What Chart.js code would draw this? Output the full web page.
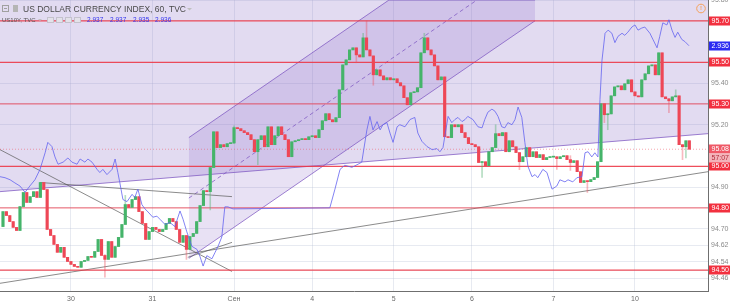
<!DOCTYPE html>
<html>
<head>
<meta charset="utf-8">
<script src="https://cdn.jsdelivr.net/npm/chart.js@4.4.1/dist/chart.umd.min.js"></script>
<style>
  html, body { margin: 0; padding: 0; background: #fff; }
</style>
</head>
<body>
<canvas id="chart" width="730" height="307"></canvas>
<script>
// hourly DXY candles, x = candle index
const firstOpen = 94.710;
const closes = [
  94.782,94.763,94.734,94.706,94.691,94.806,94.874,94.826,94.854,94.878,
  94.850,94.922,94.888,94.696,94.667,94.624,94.586,94.610,94.562,94.542,
  94.528,94.518,94.514,94.542,94.547,94.566,94.562,94.590,94.648,94.571,
  94.552,94.638,94.562,94.614,94.658,94.720,94.816,94.802,94.840,94.854,
  94.782,94.725,94.648,94.686,94.706,94.696,94.686,94.696,94.725,94.749,
  94.734,94.696,94.634,94.667,94.600,94.662,94.677,94.734,94.811,94.883,
  94.878,94.994,95.166,95.090,95.104,95.094,95.109,95.112,95.186,95.181,
  95.171,95.162,95.152,95.128,95.070,95.128,95.147,95.094,95.190,95.104,
  95.147,95.190,95.152,95.128,95.046,95.118,95.123,95.128,95.133,95.128,
  95.142,95.147,95.138,95.176,95.219,95.253,95.224,95.214,95.234,95.368,
  95.488,95.512,95.560,95.570,95.536,95.526,95.618,95.560,95.531,95.440,
  95.464,95.435,95.416,95.426,95.416,95.421,95.402,95.387,95.330,95.296,
  95.354,95.358,95.378,95.546,95.618,95.560,95.536,95.483,95.416,95.430,
  95.142,95.138,95.200,95.190,95.200,95.162,95.138,95.109,95.104,95.094,
  95.018,95.022,95.003,95.070,95.090,95.157,95.147,95.162,95.070,95.123,
  95.094,95.066,95.022,95.046,95.090,95.046,95.070,95.042,95.056,95.032,
  95.042,95.044,95.046,95.037,95.046,95.051,95.032,95.018,95.027,94.974,
  94.922,94.931,94.926,94.936,94.946,95.022,95.301,95.248,95.252,95.339,
  95.382,95.387,95.368,95.397,95.416,95.358,95.339,95.334,95.416,95.445,
  95.483,95.488,95.440,95.546,95.334,95.325,95.315,95.334,95.339,95.104,
  95.094,95.123,95.082
];
// [index, high, low] for candles with visible wicks
const wicks = [
  [30,94.575,94.466],[36,94.860,94.720],[54,94.667,94.552],[61,94.994,94.790],
  [68,95.195,95.109],[75,95.128,95.008],[104,95.570,95.498],[106,95.640,95.526],
  [107,95.700,95.560],[109,95.531,95.390],[124,95.640,95.546],[141,95.022,94.946],
  [145,95.200,95.090],[152,95.066,94.984],[163,95.046,94.985],[167,95.051,94.980],
  [172,94.931,94.874],[177,95.301,95.210],[178,95.252,95.176],[196,95.325,95.258],
  [198,95.368,95.334],[200,95.104,95.032],[201,95.123,95.040]
];

const dayTicks = [20, 44, 68, 91, 115, 138, 162, 186];
const dayLabels = ['30', '31', 'Сен', '4', '5', '6', '7', '10'];
const priceTicks = [95.80, 95.70, 95.50, 95.40, 95.30, 95.20, 95.00, 94.90, 94.80, 94.70, 94.62, 94.54, 94.50, 94.46];

// US10Y overlay
const usTimes = [
  -0.88,0.6,2.1,3.5,5.0,6.5,7.9,9.4,10.9,12.4,13.2,14.4,15.3,16.2,17.7,19.1,20.3,21.8,22.7,24.1,
  25.0,26.2,27.7,28.5,29.4,30.6,32.1,33.0,33.8,34.4,35.3,36.5,38.0,38.8,39.7,40.9,41.8,42.7,44.1,45.3,
  46.2,47.7,49.1,50.6,52.1,53.0,54.1,55.6,57.1,58.0,58.9,60.0,61.5,62.4,63.3,64.4,65.3,66.2,67.7,96.2,
  97.7,99.2,100.6,102.7,104.5,105.6,107.1,108.0,108.9,110.1,111.0,111.8,113.0,113.9,114.8,116.0,116.8,118.3,119.8,121.2,
  122.1,123.3,124.8,126.3,127.7,128.6,129.5,131.0,132.1,133.0,133.9,135.1,136.0,136.8,138.3,139.8,141.0,141.8,142.7,143.9,
  144.8,145.7,146.8,147.7,148.6,149.8,150.7,151.6,152.7,153.6,154.5,155.7,156.6,157.4,158.9,160.1,161.6,163.0,163.9,165.4,
  166.3,167.7,168.9,170.4,171.3,172.2,173.3,174.2,175.1,175.7,176.3,177.2,178.1,179.2,180.1,181.0,182.2,183.0,183.9,185.1,
  186.0,186.9,188.0,188.9,190.4,191.3,192.5,193.3,194.2,195.4,196.0,196.9,197.8,198.6,199.8,200.7,201.9
];
const usYields = [
  2.810,2.809,2.807,2.804,2.801,2.795,2.801,2.807,2.817,2.833,2.843,2.839,2.829,2.822,2.824,2.828,2.824,2.822,2.827,2.824,
  2.827,2.824,2.817,2.814,2.817,2.812,2.817,2.827,2.814,2.804,2.788,2.786,2.793,2.790,2.798,2.783,2.779,2.776,2.771,2.772,
  2.769,2.764,2.766,2.762,2.777,2.769,2.757,2.743,2.740,2.733,2.724,2.734,2.731,2.737,2.743,2.752,2.781,2.781,2.779,2.780,
  2.798,2.817,2.821,2.819,2.822,2.824,2.855,2.868,2.855,2.863,2.855,2.860,2.862,2.852,2.843,2.858,2.860,2.858,2.865,2.867,
  2.852,2.844,2.839,2.836,2.837,2.834,2.838,2.868,2.862,2.865,2.867,2.863,2.865,2.868,2.865,2.858,2.857,2.865,2.872,2.875,
  2.873,2.868,2.858,2.857,2.862,2.860,2.865,2.877,2.867,2.843,2.820,2.810,2.812,2.809,2.817,2.814,2.798,2.801,2.807,2.805,
  2.807,2.805,2.809,2.810,2.833,2.834,2.829,2.833,2.829,2.884,2.922,2.948,2.951,2.948,2.939,2.945,2.948,2.946,2.949,2.954,
  2.956,2.951,2.953,2.954,2.948,2.942,2.934,2.945,2.958,2.956,2.961,2.951,2.944,2.949,2.942,2.940,2.936
];

// drawings (time index, price)
const redLevels = [95.70, 95.50, 95.30, 95.00, 94.80, 94.50];
const shadeLine = [[-0.88, 94.878], [207.5, 95.157]];
const channelTop = [[54.7, 95.138], [113.6, 95.80], [156.6, 95.80]];
const channelBottom = [[54.7, 94.557], [113.6, 95.219], [156.6, 95.70]];
const channelMid = [[54.7, 94.847], [139.5, 95.80]];
const trendLines = [
  [[-0.88, 95.080], [67.4, 94.494]],
  [[10.9, 94.922], [67.4, 94.854]],
  [[-0.88, 94.437], [207.5, 94.974]],
  [[54.4, 94.562], [67.4, 94.634]]
];
const countdown = '57:07';
const xMin = -0.88, xMax = 207.5;

const pts = arr => arr.map(p => ({ x: p[0], y: p[1] }));

const opens = closes.map((c, i) => i === 0 ? firstOpen : closes[i - 1]);
const bodyData = [], wickData = [], bodyColors = [], wickColors = [];
closes.forEach((c, i) => {
    const o = opens[i];
    let hi = Math.max(o, c), lo = Math.min(o, c);
    const w = wicks.find(k => k[0] === i);
    if (w) { hi = Math.max(hi, w[1]); lo = Math.min(lo, w[2]); }
    const up = c >= o;
    bodyData.push({ x: i, y: [o, c] });
    wickData.push({ x: i, y: [lo, hi] });
    bodyColors.push(up ? '#45b46a' : '#ee4756');
    wickColors.push(up ? 'rgba(90,180,120,0.45)' : 'rgba(238,80,95,0.4)');
});

const plain = { type: 'line', pointRadius: 0, tension: 0, fill: false, borderWidth: 1 };

const datasets = [
    { ...plain, data: pts(shadeLine), fill: 'end', backgroundColor: 'rgba(140,110,200,0.25)', borderColor: 'rgba(126,87,194,0.75)', order: 20 },
    { ...plain, data: pts(channelTop), fill: '+1', backgroundColor: 'rgba(126,87,194,0.18)', borderColor: 'rgba(126,87,194,0.75)', order: 19 },
    { ...plain, data: pts(channelBottom), borderColor: 'rgba(126,87,194,0.75)', order: 18 },
    { ...plain, data: pts(channelMid), borderColor: 'rgba(126,87,194,0.75)', borderDash: [4, 3], order: 17 }
];
trendLines.forEach(t => datasets.push({ ...plain, data: pts(t), borderColor: 'rgba(90,90,90,0.7)', order: 16 }));
redLevels.forEach(v => datasets.push({
    ...plain, data: [{ x: xMin, y: v }, { x: xMax, y: v }],
    borderColor: (v === 95.30 || v === 94.80) ? 'rgba(240,60,75,0.65)' : 'rgba(240,50,65,0.85)',
    borderWidth: 1.2, order: 15
}));
datasets.push({ ...plain, data: [{ x: xMin, y: closes.at(-1) }, { x: xMax, y: closes.at(-1) }],
    borderColor: 'rgba(240,80,95,0.5)', borderDash: [1, 2], order: 14 });
datasets.push({ type: 'bar', data: wickData, backgroundColor: wickColors, barThickness: 1, grouped: false, order: 3 });
datasets.push({ type: 'bar', data: bodyData, backgroundColor: bodyColors, barThickness: 2.5, minBarLength: 1, grouped: false, order: 2 });
datasets.push({ ...plain, data: usTimes.map((t, k) => ({ x: t, y: usYields[k] })), borderColor: 'rgba(100,100,240,0.8)', yAxisID: 'y2', order: 1 });

// boxes on the price scale + header texts
const overlay = {
    id: 'overlay',
    afterDraw(chart) {
        const ctx = chart.ctx;
        const ys = chart.scales.y, y2 = chart.scales.y2;
        ctx.save();
        const box = (py, bg, fg, text) => {
            ctx.fillStyle = bg;
            ctx.fillRect(709, Math.round(py) - 4.5, 21, 9);
            ctx.fillStyle = fg;
            ctx.font = '7px "Liberation Sans", Arial, sans-serif';
            ctx.textAlign = 'left';
            ctx.textBaseline = 'middle';
            ctx.fillText(text, 711.5, Math.round(py) + 0.5);
        };
        redLevels.forEach(v => box(ys.getPixelForValue(v), '#f2303f', '#fff', v.toFixed(2)));
        box(y2.getPixelForValue(usYields.at(-1)), '#2b2bf2', '#fff', usYields.at(-1).toFixed(3));
        const py = ys.getPixelForValue(closes.at(-1));
        box(py, '#ef5967', '#fff', closes.at(-1).toFixed(2));
        box(py + 9, '#f3b4ba', '#b02c3a', countdown);

        // header
        ctx.strokeStyle = '#a0a0a0';
        ctx.lineWidth = 1;
        ctx.strokeRect(2.5, 5.5, 6, 6);
        ctx.beginPath(); ctx.moveTo(4, 8.5); ctx.lineTo(7, 8.5); ctx.stroke();
        ctx.fillStyle = '#b5b5b5';
        ctx.fillRect(13, 5, 5, 7);
        ctx.fillStyle = '#4a4a4a';
        ctx.font = '8.5px "Liberation Sans", Arial, sans-serif';
        ctx.textBaseline = 'alphabetic';
        ctx.fillText('US DOLLAR CURRENCY INDEX, 60, TVC', 23, 12);
        ctx.fillStyle = '#c0c0c0';
        ctx.beginPath(); ctx.moveTo(187, 8); ctx.lineTo(192, 8); ctx.lineTo(189.5, 10.5); ctx.fill();

        ctx.fillStyle = '#555';
        ctx.font = '6px "Liberation Sans", Arial, sans-serif';
        ctx.fillText('US10Y, TVC', 2, 22);
        ctx.fillStyle = '#c0c0c0';
        ctx.beginPath(); ctx.moveTo(38, 19); ctx.lineTo(42, 19); ctx.lineTo(40, 21); ctx.fill();
        [47, 56, 65, 74].forEach(x => {
            ctx.fillStyle = '#e4e2ea';
            ctx.fillRect(x, 17, 7, 6);
            ctx.strokeStyle = '#c4c2cc';
            ctx.strokeRect(x + 0.5, 17.5, 6, 5);
        });
        ctx.fillStyle = '#3434ee';
        ctx.font = '6.5px "Liberation Sans", Arial, sans-serif';
        ['2.937', '2.937', '2.935', '2.936'].forEach((t, k) => ctx.fillText(t, [87, 110, 133, 155][k], 22));

        ctx.strokeStyle = '#f5a05a';
        ctx.beginPath(); ctx.arc(701, 8.5, 4.3, 0, Math.PI * 2); ctx.stroke();
        ctx.fillStyle = '#f5a05a';
        ctx.font = 'bold 6px "Liberation Sans", Arial, sans-serif';
        ctx.textAlign = 'center';
        ctx.textBaseline = 'middle';
        ctx.fillText('!', 701, 8.8);
        ctx.restore();
    }
};

Chart.defaults.font.family = '"Liberation Sans", Arial, sans-serif';

new Chart(document.getElementById('chart'), {
    type: 'line',
    data: { datasets },
    plugins: [overlay],
    options: {
        responsive: false,
        animation: false,
        events: [],
        layout: { padding: 0 },
        plugins: { legend: { display: false }, tooltip: { enabled: false } },
        scales: {
            x: {
                type: 'linear', min: xMin, max: xMax, offset: false,
                afterBuildTicks: s => { s.ticks = dayTicks.map(v => ({ value: v })); },
                afterFit: s => { s.height = 16; s.paddingLeft = 0; s.paddingRight = 0; },
                ticks: { autoSkip: false, maxRotation: 0, padding: 4, color: '#6a6a6a', font: { size: 7 },
                    callback: (v, i) => dayLabels[i] },
                grid: { color: 'rgba(185,195,215,0.35)', drawTicks: false, offset: false },
                border: { color: '#6f6f6f' }
            },
            y: {
                position: 'right', min: 94.40, max: 95.80,
                afterBuildTicks: s => { s.ticks = priceTicks.map(v => ({ value: v })); },
                afterFit: s => { s.width = 22; s.paddingTop = 0; s.paddingBottom = 0; },
                ticks: { autoSkip: false, padding: 3, color: '#8a8a8a', font: { size: 7 },
                    callback: v => v.toFixed(2) },
                grid: { color: 'rgba(185,195,215,0.35)', drawTicks: false },
                border: { color: '#6f6f6f' }
            },
            y2: { display: false, min: 2.70, max: 2.98 }
        }
    }
});
</script>
</body>
</html>
